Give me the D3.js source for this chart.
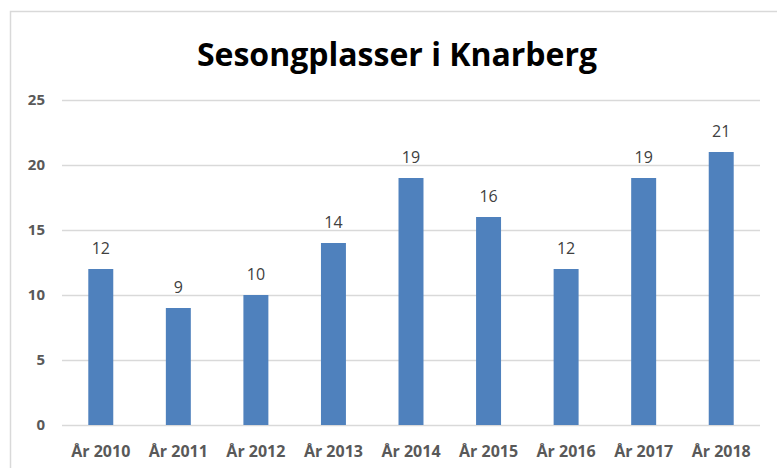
<!DOCTYPE html>
<html>
<head>
<meta charset="utf-8">
<script src="https://cdn.jsdelivr.net/npm/d3@7"></script>
<style>
  body { margin: 0; background: #fff; }
  text { font-family: "Open Sans", "Liberation Sans", sans-serif; }
</style>
</head>
<body>
<div id="chart"></div>
<script>
var years = ["År 2010", "År 2011", "År 2012", "År 2013", "År 2014", "År 2015", "År 2016", "År 2017", "År 2018"];
var plasser = [12, 9, 10, 14, 19, 16, 12, 19, 21];
var yTicks = [0, 5, 10, 15, 20, 25];

var W = 777, H = 468;
var margin = {top: 100, right: 17, bottom: 43, left: 62};

var svg = d3.select("#chart").append("svg")
    .attr("width", W)
    .attr("height", H);

// chart frame (goes off the right and bottom edge)
svg.append("rect")
  .attr("x", 10.5).attr("y", 11.5)
  .attr("width", W + 10).attr("height", H + 10)
  .style("fill", "none")
  .style("stroke", "#d9d9d9")
  .style("stroke-width", 1.5);

var x = d3.scaleBand()
    .domain(years)
    .range([margin.left, W - margin.right])
    .paddingInner(0.678)
    .paddingOuter(0.339);

var y = d3.scaleLinear()
    .domain([0, 25])
    .range([H - margin.bottom, margin.top]);

// gridlines
svg.append("g").selectAll("line")
  .data(yTicks)
  .enter().append("line")
  .attr("x1", margin.left).attr("x2", W - margin.right)
  .attr("y1", function(d){ return Math.round(y(d)) + 0.5; })
  .attr("y2", function(d){ return Math.round(y(d)) + 0.5; })
  .style("stroke", "#d9d9d9")
  .style("stroke-width", 1.5);

// y labels
svg.append("g").selectAll("text")
  .data(yTicks)
  .enter().append("text")
  .attr("x", 45)
  .attr("y", function(d){ return y(d); })
  .attr("dy", "0.35em")
  .attr("text-anchor", "end")
  .style("font-size", "15px")
  .style("font-weight", "bold")
  .style("fill", "#595959")
  .text(function(d){ return d; });

// bars
svg.append("g").selectAll("rect")
  .data(plasser)
  .enter().append("rect")
  .attr("x", function(d, i){ return x(years[i]); })
  .attr("width", x.bandwidth())
  .attr("y", function(d){ return y(d); })
  .attr("height", function(d){ return y(0) - y(d); })
  .style("fill", "#4f81bd");

// value labels
svg.append("g").selectAll("text")
  .data(plasser)
  .enter().append("text")
  .attr("x", function(d, i){ return x(years[i]) + x.bandwidth() / 2; })
  .attr("y", function(d){ return y(d) - 15; })
  .attr("text-anchor", "middle")
  .style("font-size", "16px")
  .style("fill", "#404040")
  .text(function(d){ return d; });

// x labels
svg.append("g").selectAll("text")
  .data(years)
  .enter().append("text")
  .attr("x", function(d){ return x(d) + x.bandwidth() / 2; })
  .attr("y", 457)
  .attr("text-anchor", "middle")
  .style("font-size", "16px")
  .style("font-weight", "bold")
  .style("fill", "#595959")
  .text(function(d){ return d; });

// title
svg.append("text")
  .attr("x", 397)
  .attr("y", 66)
  .attr("text-anchor", "middle")
  .style("font-size", "32px")
  .style("font-weight", "bold")
  .style("fill", "#000")
  .text("Sesongplasser i Knarberg");
</script>
</body>
</html>
